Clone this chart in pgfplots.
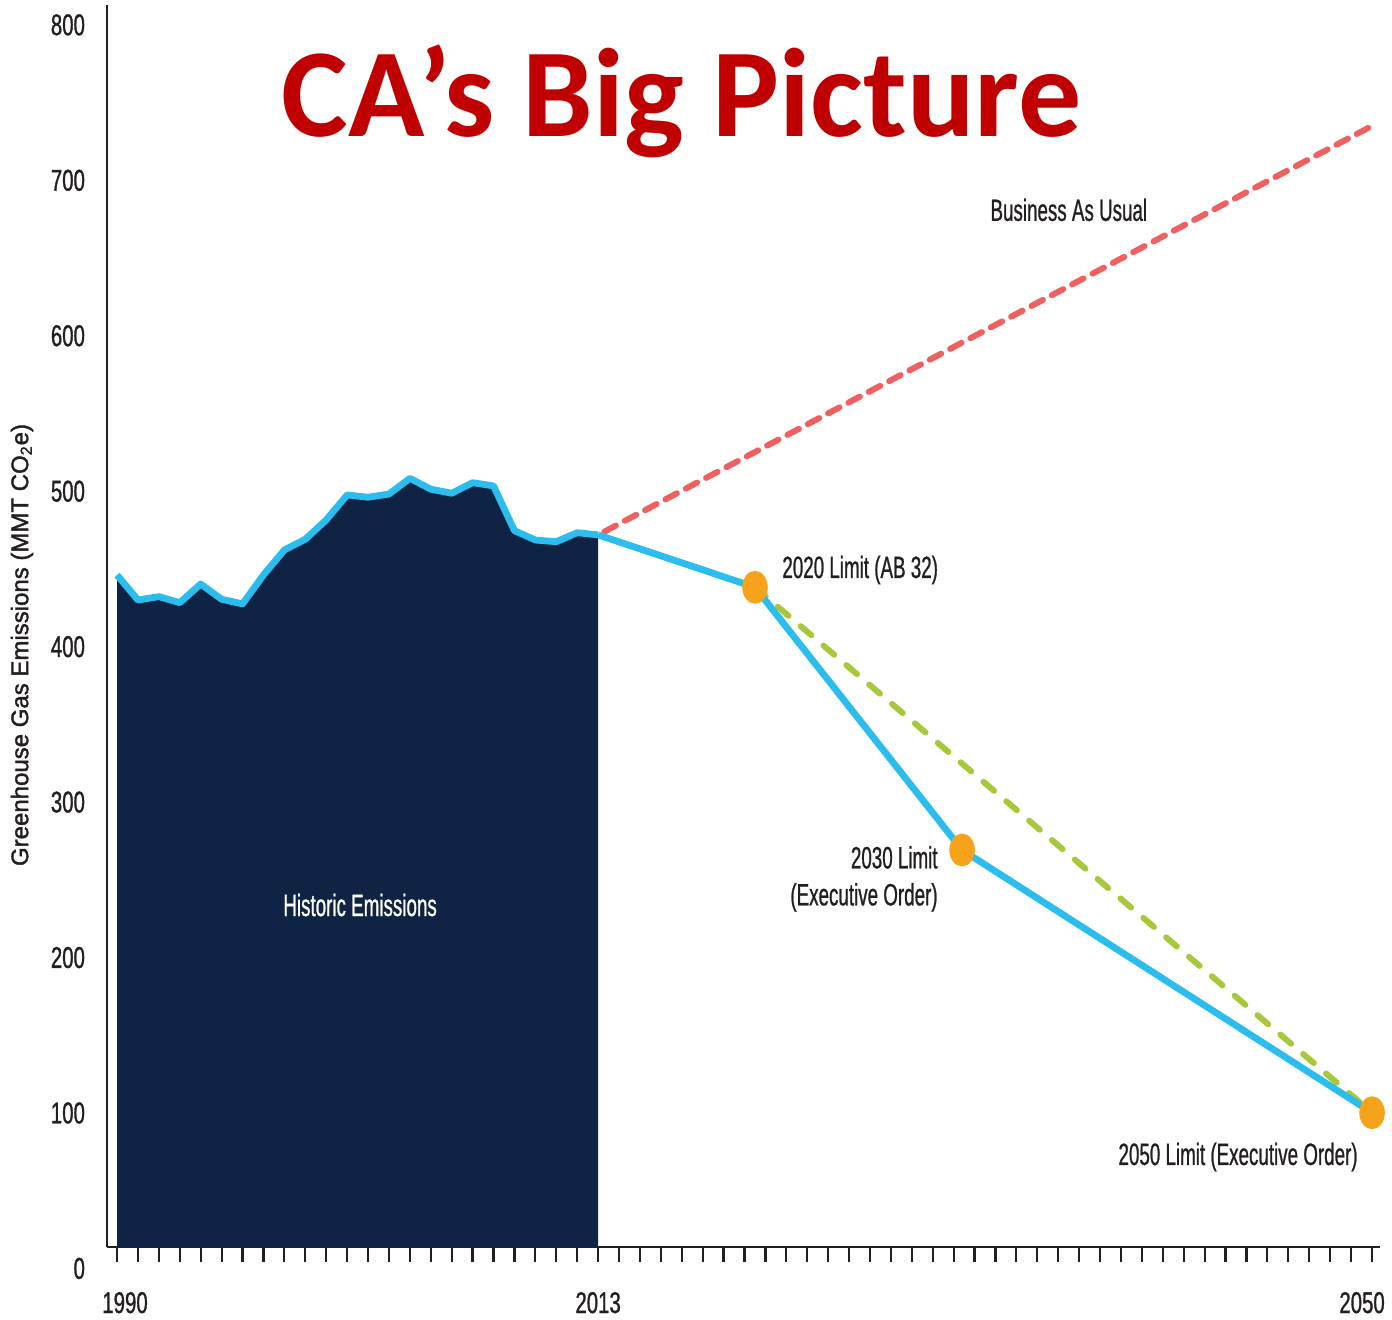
\documentclass[border=0pt]{standalone}
\usepackage{pgfplots}
\pgfplotsset{compat=1.18}
\usepackage{pgfplotstable}
\usepackage{fontspec}
\setmainfont{Liberation Sans}
\newfontfamily\tickfont[FakeStretch=0.68, FakeBold=1]{Liberation Sans}
\newfontfamily\labfont[FakeStretch=0.61, FakeBold=0.8]{Liberation Sans}
\newfontfamily\axisfont[FakeBold=1.6]{Liberation Sans}
\newfontfamily\titlefont{Carlito}

\definecolor{navy}{HTML}{0F2344}
\definecolor{cyanline}{HTML}{2BBDEE}
\definecolor{bau}{HTML}{F06060}
\definecolor{limitgreen}{HTML}{A8C83C}
\definecolor{dot}{HTML}{F7A21B}
\definecolor{titlered}{HTML}{C00000}
\definecolor{ink}{HTML}{231F20}

% historic emissions, MMT CO2e
\pgfplotstableread{
year value
1990 446.1
1991 430.0
1992 432.2
1993 428.3
1994 440.3
1995 430.5
1996 427.5
1997 446.1
1998 462.2
1999 469.1
2000 481.5
2001 497.6
2002 496.1
2003 498.2
2004 508.3
2005 501.3
2006 498.7
2007 505.5
2008 503.4
2009 474.6
2010 468.6
2011 467.5
2012 473.3
2013 471.9
}\historic

% path to the limits
\pgfplotstableread{
year value
2013 471.9
2020.5 438.2
2030.4 269.2
2050 100.2
}\limits

\pgfplotstableread{
year value
2020.5 438.2
2030.4 269.2
2050 100.2
}\limitdots

\begin{document}
\begin{tikzpicture}
\begin{axis}[
  at={(0pt,0pt)}, anchor=south west,
  scale only axis, width=636.5pt, height=621pt,
  xmin=1989.52, xmax=2050.38, ymin=13.8, ymax=812.8,
  axis lines=left,
  axis line style={ink, line width=1.4pt, -},
  xtick={1990,...,2050}, xticklabels={},
  x tick style={ink, line width=1.1pt},
  major tick length=7.5pt, tick align=outside,
  extra x ticks={1990,2013,2050},
  extra x tick labels={\rule{8pt}{0pt}1990,2013,2050\rule{10pt}{0pt}},
  extra x tick style={major tick length=0pt, tick label style={yshift=-19pt}},
  ytick={100,200,...,800},
  y tick style={draw=none},
  /pgf/number format/assume math mode=true,
  tick label style={font=\tickfont\fontsize{15}{17}\selectfont, text=ink},
  ylabel={Greenhouse Gas Emissions (MMT CO\textsubscript{2}e)},
  every axis y label/.style={at={(rel axis cs:-0.0668,0.4847)}, rotate=90, anchor=center,
    font=\axisfont\fontsize{12}{14}\selectfont, text=ink},
  clip mode=individual,
]
\addplot[draw=none, fill=navy] table[x=year, y=value] {\historic} \closedcycle;
\addplot[limitgreen, line width=3pt, dash pattern=on 7pt off 8pt, line cap=round]
  coordinates {(2020.5,438.2) (2050,100.2)};
\addplot[bau, line width=3pt, dash pattern=on 6.5pt off 5pt, line cap=round]
  coordinates {(2013.3,474) (2050,735)};
\addplot[cyanline, line width=3.4pt, line join=round] table[x=year, y=value] {\historic};
\addplot[cyanline, line width=3.4pt, line join=round] table[x=year, y=value] {\limits};
\addplot[dot, only marks, mark=*, mark size=8pt, mark options={xscale=0.77, fill=dot, draw=dot}]
  table[x=year, y=value] {\limitdots};

\node[anchor=east, xshift=-7.5pt, font=\tickfont\fontsize{15}{17}\selectfont, text=ink]
  at (axis cs:1989.52,0) {0};
\node[anchor=base, font=\titlefont\bfseries\fontsize{63}{70}\selectfont, text=titlered]
  at (axis cs:2016.99,727.9) {CA’s Big Picture};
\begin{scope}[every node/.style={inner sep=0pt, font=\labfont\fontsize{15.4}{18.5}\selectfont, text=ink}]
\node[text=white] at (axis cs:2001.62,233.8) {Historic Emissions};
\node[anchor=west] at (axis cs:2031.74,681) {Business As Usual};
\node[anchor=west] at (axis cs:2021.79,449.3) {2020 Limit (AB 32)};
\node[anchor=east, align=right] at (axis cs:2029.25,250.6) {2030 Limit\\(Executive Order)};
\node[anchor=west] at (axis cs:2037.86,71.7) {2050 Limit (Executive Order)};
\end{scope}
\end{axis}
\pgfresetboundingbox
\path[use as bounding box] (-53.5pt,-36.5pt) rectangle (642.5pt,623.5pt);
\end{tikzpicture}
\end{document}
